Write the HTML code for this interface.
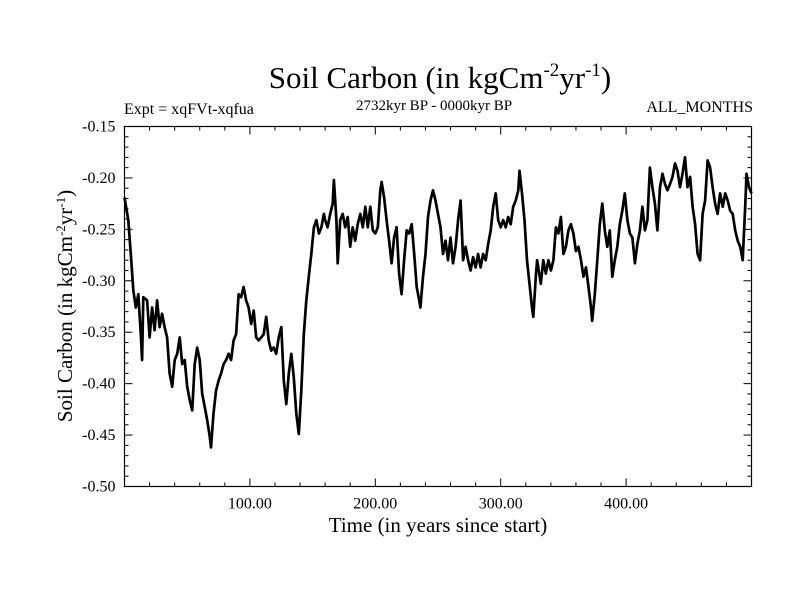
<!DOCTYPE html>
<html><head><meta charset="utf-8"><style>
body{margin:0;background:#fff;}
svg text{font-family:"Liberation Serif",serif;fill:#000;}
</style></head><body>
<svg id="chart" width="800" height="600" xmlns="http://www.w3.org/2000/svg">
<rect width="800" height="600" fill="#fff"/>
<text x="440" y="88" font-size="31" text-anchor="middle">Soil Carbon (in kgCm<tspan font-size="19" dy="-12">-2</tspan><tspan dy="12">yr</tspan><tspan font-size="19" dy="-12">-1</tspan><tspan dy="12">)</tspan></text>
<text x="124" y="114" font-size="16">Expt = xqFVt-xqfua</text>
<text x="434" y="110" font-size="15" text-anchor="middle">2732kyr BP - 0000kyr BP</text>
<text x="753" y="112" font-size="16" text-anchor="end">ALL_MONTHS</text>
<text x="438" y="532" font-size="21" text-anchor="middle">Time (in years since start)</text>
<text transform="translate(72,306) rotate(-90)" font-size="21" text-anchor="middle">Soil Carbon (in kgCm<tspan font-size="13" dy="-7">-2</tspan><tspan dy="7">yr</tspan><tspan font-size="13" dy="-7">-1</tspan><tspan dy="7">)</tspan></text>
<g id="axes"></g>
<path id="series" fill="none" stroke="#000" stroke-width="2.7" stroke-linejoin="round"/>
<rect x="124.5" y="126.5" width="627" height="360" fill="none" stroke="#000" stroke-width="1.2"/>
</svg>
<script>
const years = [0,3,5,7,9,11,13,14,15,18,20,22,24,26,28,30,32,34,36,38,40,42,44,46,48,50,52,54,56,58,60,62,64,66,68,69,71,73,75,77,79,81,83,85,87,89,91,93,95,97,99,101,103,105,107,109,111,113,115,117,119,121,123,125,127,129,131,133,135,137,139,141,143,145,147,149,151,153,155,157,159,160,162,164,166,167,169,170,172,174,176,178,180,182,184,186,188,190,192,194,196,198,200,202,204,205,207,209,211,213,215,217,219,221,223,225,227,229,231,233,235,236,238,240,242,244,246,248,250,252,254,256,258,260,262,264,266,268,270,272,274,276,278,280,282,284,286,288,290,292,294,296,298,300,302,304,306,308,310,312,314,315,317,319,321,323,325,326,328,329,330,332,334,336,338,340,342,344,346,348,350,352,354,356,358,360,362,364,366,368,370,372,373,375,377,379,381,383,385,387,389,391,393,395,397,399,401,403,405,407,409,411,413,415,417,419,421,423,425,427,429,431,433,435,437,439,441,443,445,447,449,451,453,455,457,459,461,463,465,467,469,471,473,475,477,479,481,483,485,487,489,491,493,495,496,498,500];
const values = [-0.219,-0.241,-0.274,-0.309,-0.326,-0.313,-0.352,-0.377,-0.316,-0.319,-0.355,-0.326,-0.348,-0.319,-0.345,-0.332,-0.345,-0.355,-0.390,-0.403,-0.377,-0.371,-0.355,-0.381,-0.377,-0.403,-0.416,-0.426,-0.381,-0.365,-0.377,-0.410,-0.423,-0.436,-0.452,-0.462,-0.429,-0.407,-0.397,-0.390,-0.381,-0.377,-0.371,-0.377,-0.358,-0.352,-0.313,-0.316,-0.306,-0.319,-0.326,-0.342,-0.329,-0.355,-0.358,-0.355,-0.352,-0.335,-0.358,-0.368,-0.365,-0.371,-0.355,-0.345,-0.397,-0.420,-0.390,-0.371,-0.394,-0.429,-0.449,-0.407,-0.352,-0.319,-0.296,-0.274,-0.248,-0.241,-0.254,-0.248,-0.235,-0.241,-0.248,-0.235,-0.225,-0.202,-0.241,-0.283,-0.241,-0.235,-0.248,-0.238,-0.267,-0.248,-0.261,-0.245,-0.235,-0.248,-0.228,-0.248,-0.228,-0.251,-0.254,-0.248,-0.212,-0.204,-0.219,-0.241,-0.261,-0.283,-0.258,-0.248,-0.293,-0.313,-0.280,-0.251,-0.254,-0.245,-0.274,-0.306,-0.319,-0.326,-0.296,-0.274,-0.238,-0.222,-0.212,-0.222,-0.235,-0.248,-0.274,-0.261,-0.280,-0.258,-0.283,-0.267,-0.241,-0.222,-0.280,-0.267,-0.280,-0.290,-0.277,-0.287,-0.274,-0.287,-0.274,-0.280,-0.264,-0.251,-0.228,-0.215,-0.241,-0.248,-0.241,-0.248,-0.238,-0.245,-0.228,-0.222,-0.212,-0.193,-0.215,-0.241,-0.280,-0.303,-0.326,-0.335,-0.296,-0.280,-0.287,-0.303,-0.280,-0.293,-0.280,-0.290,-0.280,-0.248,-0.254,-0.238,-0.274,-0.267,-0.251,-0.245,-0.254,-0.271,-0.267,-0.280,-0.296,-0.287,-0.306,-0.326,-0.339,-0.313,-0.280,-0.245,-0.225,-0.251,-0.267,-0.251,-0.296,-0.280,-0.267,-0.245,-0.232,-0.215,-0.241,-0.254,-0.258,-0.283,-0.264,-0.251,-0.228,-0.251,-0.241,-0.190,-0.209,-0.225,-0.251,-0.209,-0.196,-0.206,-0.212,-0.206,-0.199,-0.186,-0.193,-0.209,-0.196,-0.180,-0.209,-0.199,-0.228,-0.245,-0.274,-0.280,-0.235,-0.222,-0.183,-0.190,-0.209,-0.225,-0.235,-0.215,-0.228,-0.215,-0.222,-0.232,-0.235,-0.251,-0.261,-0.267,-0.280,-0.228,-0.196,-0.209,-0.215];
const xTicks = [100,200,300,400];
const xTickLabels = ["100.00","200.00","300.00","400.00"];
const yTicks = [-0.15,-0.20,-0.25,-0.30,-0.35,-0.40,-0.45,-0.50];
const yTickLabels = ["-0.15","-0.20","-0.25","-0.30","-0.35","-0.40","-0.45","-0.50"];

const L=124.5,R=751.5,T=126.5,B=486.5;
const xMin=0,xMax=500,yMin=-0.50,yMax=-0.15;
function xs(v){return L+(v-xMin)/(xMax-xMin)*(R-L);}
function ys(v){return B-(v-yMin)/(yMax-yMin)*(B-T);}
const NS="http://www.w3.org/2000/svg";
const ax=document.getElementById('axes');
function line(x1,y1,x2,y2,name){
  const l=document.createElementNS(NS,'line');
  l.setAttribute('x1',x1);l.setAttribute('y1',y1);l.setAttribute('x2',x2);l.setAttribute('y2',y2);
  l.setAttribute('stroke','#000');l.setAttribute('stroke-width','1');
  
  
  ax.appendChild(l);
}
function text(x,y,s,anchor,name){
  const t=document.createElementNS(NS,'text');
  t.setAttribute('x',x);t.setAttribute('y',y);t.setAttribute('font-size','16');t.setAttribute('text-anchor',anchor);
  t.textContent=s;
  
  
  ax.appendChild(t);
}
for(let v=20;v<500;v+=20){
  const x=xs(v);const major=(v%100===0);const len=major?8:4;
  line(x,B,x,B-len,'x-tick');
  line(x,T,x,T+len,'x-tick-top');
}
for(let i=1;i<35;i++){
  const v=yMin+i*0.01;const y=ys(v);const major=(i%5===0);const len=major?8:4;
  line(L,y,L+len,y,'y-tick');
  line(R,y,R-len,y,'y-tick-right');
}
xTicks.forEach((v,i)=>text(xs(v),B+22,xTickLabels[i],'middle','x-tick-label'));
yTicks.forEach((v,i)=>text(L-9,ys(v)+5,yTickLabels[i],'end','y-tick-label'));
let d='';
years.forEach((yr,i)=>{d+=(i?'L':'M')+xs(yr).toFixed(1)+','+ys(values[i]).toFixed(1);});
document.getElementById('series').setAttribute('d',d);
</script>
</body></html>
